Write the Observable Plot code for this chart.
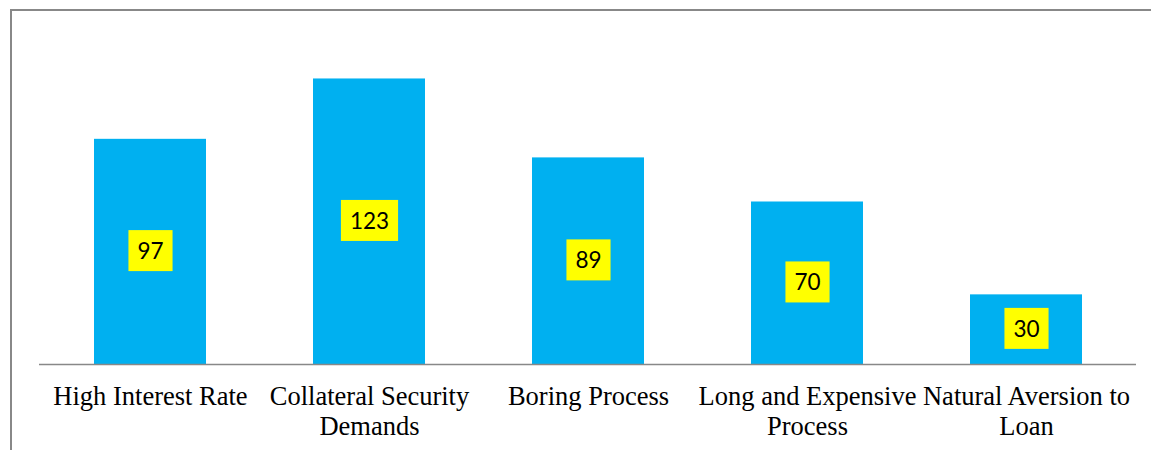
<!DOCTYPE html>
<html><head><meta charset="utf-8">
<script src="https://cdn.jsdelivr.net/npm/d3@7"></script>
<script src="https://cdn.jsdelivr.net/npm/@observablehq/plot@0.6"></script>
<style>
body{margin:0;background:#fff;}
#wrap{position:relative;width:1151px;height:450px;overflow:hidden;}
#frame{position:absolute;left:10px;top:9px;width:1200px;height:500px;border-left:2px solid #888;border-top:2px solid #888;}
#chart{position:absolute;left:0;top:0;}
</style></head><body>
<div id="wrap"><div id="frame"></div><div id="chart"></div></div>
<script>
const categories = ["High Interest Rate","Collateral Security Demands","Boring Process","Long and Expensive Process","Natural Aversion to Loan"];
const values = [97,123,89,70,30];
const tickLabels = ["High Interest Rate","Collateral Security\nDemands","Boring Process","Long and Expensive\nProcess","Natural Aversion to\nLoan"];
const data = categories.map((c,i)=>({category:c, value:values[i]}));
const chart = Plot.plot({
  width:1151, height:450, marginLeft:39, marginRight:15, marginTop:39, marginBottom:86,
  style:{background:"transparent"},
  x:{domain:categories, paddingInner:0.49, paddingOuter:0.245, label:null},
  y:{domain:[0,140], axis:null},
  marks:[
    Plot.barY(data,{x:"category", y:"value", fill:"#00B0F0"}),
    Plot.ruleY([0],{stroke:"#888", strokeWidth:1.7}),
    Plot.axisX({tickSize:0, tickPadding:19, fontSize:26.5, lineHeight:1.13, fontFamily:"Liberation Serif", fill:"#000",
      tickFormat: c => tickLabels[categories.indexOf(c)], label:null}),
    Plot.text(data,{x:"category", y:d=>d.value/2, text:d=>String(d.value), fontSize:22.5, fontFamily:"Lato", fill:"#000"})
  ]
});
document.getElementById("chart").appendChild(chart);
chart.querySelectorAll('g[aria-label="text"] text').forEach(t=>{
  const b = t.getBBox();
  const r = document.createElementNS("http://www.w3.org/2000/svg","rect");
  const cy = b.y + b.height/2;
  r.setAttribute("x", b.x - 9);
  r.setAttribute("width", b.width + 18);
  r.setAttribute("y", cy - 20.5);
  r.setAttribute("height", 41);
  r.setAttribute("fill", "#FFFF00");
  if (t.getAttribute("transform")) r.setAttribute("transform", t.getAttribute("transform"));
  t.parentNode.insertBefore(r, t);
});
</script>
</body></html>
